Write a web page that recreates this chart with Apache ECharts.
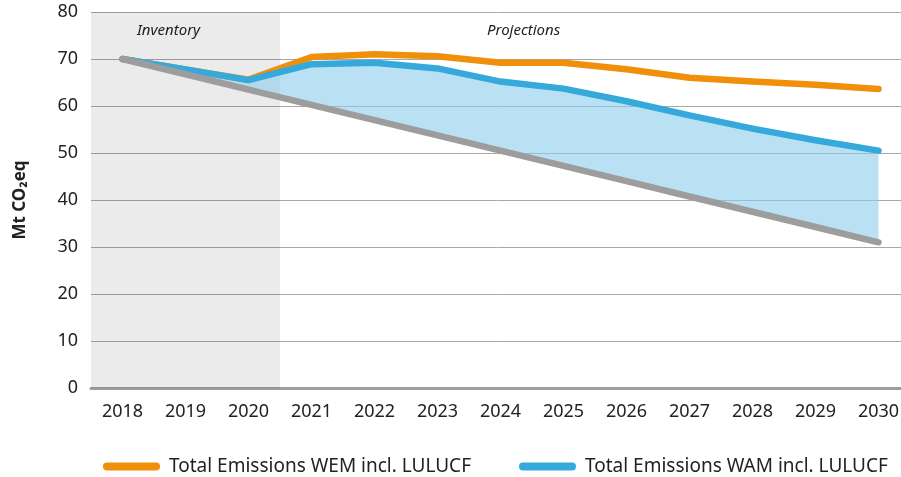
<!DOCTYPE html>
<html>
<head>
<meta charset="utf-8">
<script src="https://cdn.jsdelivr.net/npm/echarts@6/dist/echarts.min.js"></script>
<style>html,body{margin:0;padding:0;background:#fff}#c{width:901px;height:477px}</style>
</head>
<body>
<div id="c"></div>
<script>
var years = ['2018','2019','2020','2021','2022','2023','2024','2025','2026','2027','2028','2029','2030'];
var yTicks = [0,10,20,30,40,50,60,70,80];
var wem = [70, 67.8, 65.6, 70.4, 71.0, 70.6, 69.2, 69.2, 67.8, 66.0, 65.2, 64.5, 63.6];
var wam = [70, 67.8, 65.5, 68.9, 69.2, 68.0, 65.2, 63.7, 61.0, 58.0, 55.2, 52.7, 50.5];
var target = [70, 66.75, 63.5, 60.25, 57, 53.75, 50.5, 47.25, 44, 40.75, 37.5, 34.25, 31];
var inventoryYears = ['2018','2019','2020'];
var wemName = 'Total Emissions WEM incl. LULUCF';
var wamName = 'Total Emissions WAM incl. LULUCF';

var font = '"Noto Sans", sans-serif';
var yMax = yTicks[yTicks.length-1];
var bandDiff = wam.map(function(v,i){ return +(v - target[i]).toFixed(2); });
var inventoryBand = years.map(function(y){ return inventoryYears.indexOf(y) >= 0 ? yMax : null; });
var chart = echarts.init(document.getElementById('c'), null, {renderer:'canvas'});
var legendIcon = 'path://M4,0 L53,0 A4,4 0 0 1 53,8 L4,8 A4,4 0 0 1 4,0 Z';
chart.setOption({
  animation: false,
  grid: {left: 91, width: 819, top: 12, bottom: 89, outerBoundsMode: 'none', containLabel: false},
  xAxis: {
    type: 'category', data: years, boundaryGap: true,
    axisLine: {lineStyle: {color: '#9d9d9d', width: 3}},
    axisTick: {show: false},
    axisLabel: {color: '#222', fontFamily: font, fontSize: 18, margin: 15}
  },
  yAxis: {
    type: 'value', min: yTicks[0], max: yMax, interval: 10,
    name: 'Mt CO₂eq', nameLocation: 'middle', nameGap: 62, nameRotate: 90,
    nameTextStyle: {fontFamily: font, fontWeight: 'bold', fontSize: 17, color: '#222'},
    axisLine: {show: false}, axisTick: {show: false},
    axisLabel: {color: '#222', fontFamily: font, fontSize: 18, margin: 13},
    splitLine: {lineStyle: {color: '#a8a8a8', width: 1}}
  },
  legend: {
    bottom: -4, left: 98, itemGap: 48, itemWidth: 57, itemHeight: 8,
    icon: legendIcon,
    textStyle: {fontFamily: font, fontSize: 19, color: '#222', padding: [0,0,0,4]},
    data: [wemName, wamName]
  },
  graphic: [
    {type: 'text', left: 137, top: 23, style: {text: 'Inventory', fontFamily: font, fontStyle: 'italic', fontSize: 15, fill: '#222'}},
    {type: 'text', left: 487, top: 23, style: {text: 'Projections', fontFamily: font, fontStyle: 'italic', fontSize: 15, fill: '#222'}}
  ],
  series: [
    {
      name: 'inventory', type: 'bar', data: inventoryBand, barWidth: '100%', silent: true, z: 0,
      itemStyle: {color: 'rgba(0,0,0,0.08)'}
    },
    {
      name: 'base', type: 'line', stack: 'band', data: target, symbol: 'none',
      lineStyle: {opacity: 0}, silent: true, z: 1
    },
    {
      name: 'band', type: 'line', stack: 'band', data: bandDiff, symbol: 'none',
      lineStyle: {opacity: 0}, areaStyle: {color: 'rgba(140,205,235,0.6)', opacity: 1}, silent: true, z: 1
    },
    {
      name: wemName, type: 'line', data: wem, symbol: 'none', z: 3,
      itemStyle: {color: '#f0900a'},
      lineStyle: {color: '#f0900a', width: 6.5, cap: 'round', join: 'round'}
    },
    {
      name: wamName, type: 'line', data: wam, symbol: 'none', z: 4,
      itemStyle: {color: '#36a9dc'},
      lineStyle: {color: '#36a9dc', width: 6.5, cap: 'round', join: 'round'}
    },
    {
      name: 'target', type: 'line', data: target, symbol: 'none', z: 5,
      lineStyle: {color: '#9d9d9e', width: 6.5, cap: 'round', join: 'round'}
    }
  ]
});
</script>
</body>
</html>
